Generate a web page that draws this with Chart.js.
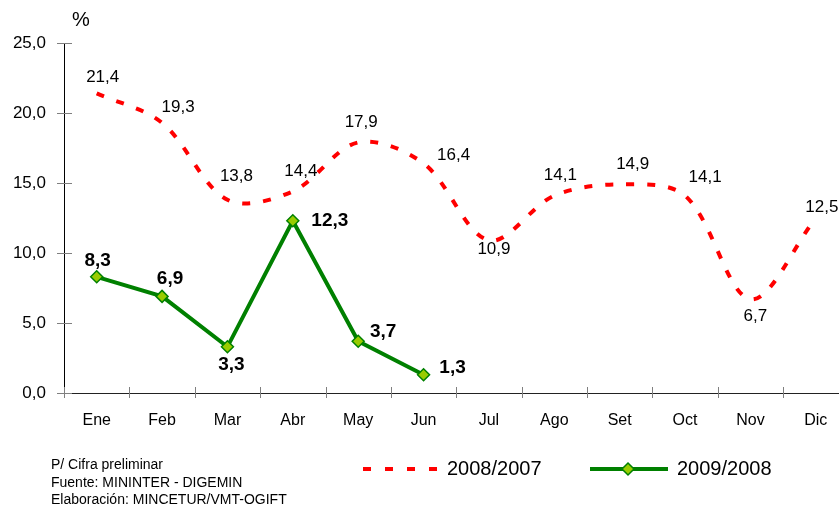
<!DOCTYPE html>
<html>
<head>
<meta charset="utf-8">
<script src="https://cdn.jsdelivr.net/npm/chart.js@4"></script>
<style>
    html, body { margin: 0; padding: 0; background: #fff; overflow: hidden; }
    body { width: 839px; height: 511px; position: relative; font-family: "Liberation Sans", Arial, sans-serif; }
    #wrap { position: absolute; left: 0; top: 0; width: 856px; height: 511px; }
    .txt { position: absolute; color: #000; white-space: nowrap; }
    #unit { left: 72px; top: 9px; font-size: 20px; line-height: 20px; }
    #notes { left: 51px; top: 456px; font-size: 14px; line-height: 17.5px; }
    .leg { font-size: 20px; line-height: 20px; top: 458px; }
    svg { position: absolute; }
</style>
</head>
<body>
<div id="wrap"><canvas id="turismo-chart" width="856" height="511"></canvas></div>
<div class="txt" id="unit">%</div>
<div class="txt" id="notes">P/ Cifra preliminar<br>Fuente: MININTER - DIGEMIN<br>Elaboración: MINCETUR/VMT-OGIFT</div>
<svg style="left:363px;top:463px" width="76" height="12">
    <line x1="0" y1="6" x2="76" y2="6" stroke="#ff0000" stroke-width="4" stroke-dasharray="8 14"/>
</svg>
<div class="txt leg" style="left:447px">2008/2007</div>
<svg style="left:590px;top:461px" width="78" height="16">
    <line x1="0" y1="8" x2="78" y2="8" stroke="#008000" stroke-width="4"/>
    <polygon points="38,2 44,8 38,14 32,8" fill="#99cc00" stroke="#008000" stroke-width="1.5"/>
</svg>
<div class="txt leg" style="left:677px">2009/2008</div>

<script>
const months = ['Ene', 'Feb', 'Mar', 'Abr', 'May', 'Jun', 'Jul', 'Ago', 'Set', 'Oct', 'Nov', 'Dic'];
const var2008 = [21.4, 19.3, 13.8, 14.4, 17.9, 16.4, 10.9, 14.1, 14.9, 14.1, 6.7, 12.5];
const var2009 = [8.3, 6.9, 3.3, 12.3, 3.7, 1.3];
const yTicks = [0, 5, 10, 15, 20, 25];

// label placement (px from the point), like the original excel chart
const offsets2008 = [[6, -16], [16, -15], [9, -23], [8, -20], [3, -20], [30, -8], [5, 9], [6, -20], [13, -20], [20, -18], [5, 17], [6, -11]];
const offsets2009 = [[1, -16], [8, -18], [4, 18], [37, 0], [25, -9], [29, -7]];

const FONT = '"Liberation Sans", Arial, sans-serif';
const fmt = v => v.toFixed(1).replace('.', ',');

const valueLabels = {
    id: 'valueLabels',
    afterDatasetsDraw(chart) {
        const ctx = chart.ctx;
        ctx.save();
        ctx.textAlign = 'center';
        ctx.textBaseline = 'middle';
        ctx.fillStyle = '#000';
        chart.data.datasets.forEach((ds, d) => {
            const meta = chart.getDatasetMeta(d);
            const offs = d === 0 ? offsets2008 : offsets2009;
            ctx.font = d === 0 ? '17px ' + FONT : 'bold 19px ' + FONT;
            meta.data.forEach((pt, i) => {
                ctx.fillText(fmt(ds.data[i]), pt.x + offs[i][0], pt.y + offs[i][1]);
            });
        });
        ctx.restore();
    }
};

// tick marks crossing the axes
const axisTicks = {
    id: 'axisTicks',
    afterDraw(chart) {
        const { ctx, scales: { x, y } } = chart;
        ctx.save();
        ctx.strokeStyle = '#7f7f7f';
        ctx.lineWidth = 1;
        ctx.beginPath();
        yTicks.forEach(v => {
            const py = Math.round(y.getPixelForValue(v)) + 0.5;
            ctx.moveTo(x.left - 7, py);
            ctx.lineTo(x.left + 8, py);
        });
        for (let i = 0; i <= months.length; i++) {
            const px = Math.round(x.getPixelForValue(i - 0.5)) + 0.5;
            ctx.moveTo(px, y.bottom - 6);
            ctx.lineTo(px, y.bottom + 5);
        }
        ctx.stroke();
        ctx.restore();
    }
};

new Chart(document.getElementById('turismo-chart'), {
    type: 'line',
    data: {
        labels: months,
        datasets: [{
            label: '2008/2007',
            data: var2008,
            borderColor: '#ff0000',
            borderWidth: 4,
            borderDash: [8, 13],
            borderCapStyle: 'butt',
            tension: 0.33,
            pointRadius: 0,
            fill: false
        }, {
            label: '2009/2008',
            data: var2009,
            borderColor: '#008000',
            borderWidth: 4,
            tension: 0,
            pointStyle: 'rectRot',
            pointRadius: 6,
            pointBackgroundColor: '#99cc00',
            pointBorderColor: '#008000',
            pointBorderWidth: 1.5,
            fill: false
        }]
    },
    options: {
        responsive: false,
        animation: false,
        layout: { padding: { top: 43, left: 0, right: 0, bottom: 0 } },
        plugins: {
            legend: { display: false },
            tooltip: { enabled: false }
        },
        scales: {
            x: {
                offset: true,
                grid: { display: false, drawTicks: false },
                border: { display: true, color: '#222', width: 1 },
                ticks: { color: '#000', font: { family: FONT, size: 16 }, padding: 18, maxRotation: 0, autoSkip: false },
                afterFit: s => { s.height = 118; }
            },
            y: {
                min: 0,
                max: 25,
                grid: { display: false, drawTicks: false },
                border: { display: true, color: '#000', width: 1 },
                ticks: { stepSize: 5, color: '#000', font: { family: FONT, size: 17 }, padding: 18, callback: v => fmt(v) },
                afterFit: s => { s.width = 64; }
            }
        }
    },
    plugins: [valueLabels, axisTicks]
});
</script>
</body>
</html>
